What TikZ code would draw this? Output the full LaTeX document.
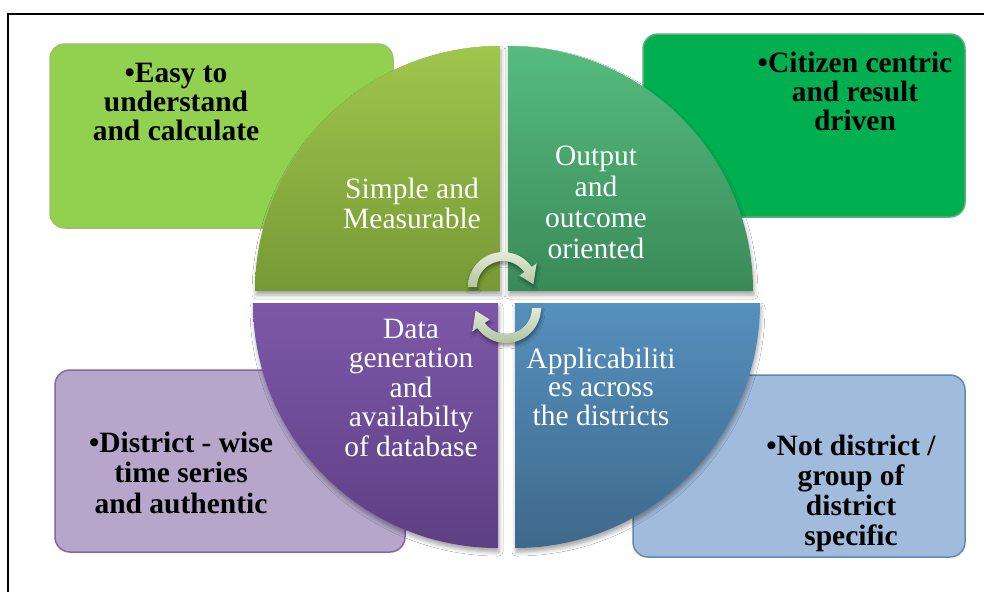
\documentclass[tikz,border=0pt]{standalone}
\usepackage{fontspec}
\newfontfamily\cf{Liberation Serif}
\usetikzlibrary{shadows.blur}
\definecolor{tlbox}{HTML}{92D050}
\definecolor{tlboxd}{HTML}{A2BF68}
\definecolor{trbox}{HTML}{00B050}
\definecolor{trboxd}{HTML}{5DAF78}
\definecolor{blbox}{HTML}{B5A6CA}
\definecolor{blboxd}{HTML}{8466A6}
\definecolor{brbox}{HTML}{A1BBDC}
\definecolor{brboxd}{HTML}{5E8AB0}
\definecolor{tltop}{HTML}{A0C64C}
\definecolor{tlbot}{HTML}{779936}
\definecolor{trtop}{HTML}{55BC7E}
\definecolor{trbot}{HTML}{3A8A58}
\definecolor{bltop}{HTML}{7D58A9}
\definecolor{blbot}{HTML}{5D3F83}
\definecolor{brtop}{HTML}{5590BE}
\definecolor{brbot}{HTML}{3E698B}
\definecolor{arrtop}{HTML}{E2EBD6}
\definecolor{arrbot}{HTML}{B3C4A0}
\tikzset{
  box/.style={draw, line width=1.5pt, rounded corners=15pt, inner sep=0pt},
  boxtext/.style={font=\cf\bfseries\fontsize{29.5}{29.5}\selectfont, align=center, text=black, inner sep=0pt, anchor=base},
  quadtext/.style={font=\cf\fontsize{29.5}{29.5}\selectfont, align=center, text=white, inner sep=0pt, anchor=base},
  quad/.style={blur shadow={shadow xshift=1pt, shadow yshift=-4pt, shadow blur radius=4pt, shadow opacity=35}},
  cyc/.style={top color=arrtop, bottom color=arrbot, blur shadow={shadow xshift=1pt, shadow yshift=-3pt, shadow blur radius=3pt, shadow opacity=40}}
}
\begin{document}
\begin{tikzpicture}[x=1pt,y=1pt]
\useasboundingbox[fill=white] (0,0) rectangle (984,-592);
% frame
\draw[line width=2pt] (984,-14) -- (8,-14) -- (8,-592);
% side boxes
\node[box, fill=tlbox, draw=tlboxd, minimum width=343pt, minimum height=184pt] (bEasy) at (221.5,-136) {};
\node[box, fill=trbox, draw=trboxd, minimum width=322pt, minimum height=183pt] (bCit) at (804,-125.5) {};
\node[box, fill=blbox, draw=blboxd, minimum width=350pt, minimum height=182pt] (bDist) at (230,-461) {};
\node[box, fill=brbox, draw=brboxd, minimum width=332pt, minimum height=182pt] (bNot) at (799,-466) {};
% quadrants
\path[quad, top color=tltop, bottom color=tlbot] (500,-291) -- (255,-291) arc[start angle=180, end angle=90, radius=245] -- cycle;
\path[quad, top color=trtop, bottom color=trbot] (508,-291) -- (508,-46) arc[start angle=90, end angle=0, radius=245] -- cycle;
\path[quad, top color=bltop, bottom color=blbot] (498,-303) -- (253,-303) arc[start angle=180, end angle=270, radius=245] -- cycle;
\path[quad, top color=brtop, bottom color=brbot] (515,-303) -- (760,-303) arc[start angle=0, end angle=-90, radius=245] -- cycle;
% circular arrows
\begin{scope}[shift={(503,-287)}]
\path[cyc] (180:35) arc[start angle=180, end angle=35, radius=35] -- (35:41) -- (5:30.5) -- (35:20) -- (35:26) arc[start angle=35, end angle=180, radius=26] -- cycle;
\end{scope}
\begin{scope}[shift={(506,-308)}, rotate=180]
\path[cyc] (180:35) arc[start angle=180, end angle=35, radius=35] -- (35:41) -- (5:30.5) -- (35:20) -- (35:26) arc[start angle=35, end angle=180, radius=26] -- cycle;
\end{scope}
% quadrant texts (anchor = baseline of last line)
\node[quadtext] (qSimple) at (412,-228) {Simple and\\Measurable};
\node[quadtext, font=\cf\fontsize{29.5}{30.7}\selectfont] (qOut) at (596,-258) {Output\\and\\outcome\\oriented};
\node[quadtext] (qData) at (411,-456) {Data\\generation\\and\\availabilty\\of database};
\node[quadtext, font=\cf\fontsize{29.5}{28.5}\selectfont] (qApp) at (601,-425) {Applicabiliti\\es across\\the districts};
% box texts
\node[boxtext, font=\cf\bfseries\fontsize{29.5}{29}\selectfont] (tEasy) at (176,-140) {•Easy to\\understand\\and calculate};
\node[boxtext, font=\cf\bfseries\fontsize{29.5}{29}\selectfont] (tCit) at (855,-130) {•Citizen centric\\and result\\driven};
\node[boxtext, font=\cf\bfseries\fontsize{29.5}{30.5}\selectfont] (tDist) at (181,-513) {•District - wise\\time series\\and authentic};
\node[boxtext, font=\cf\bfseries\fontsize{29.5}{29.7}\selectfont] (tNot) at (851,-545) {•Not district /\\group of\\district\\specific};
\end{tikzpicture}
\end{document}
